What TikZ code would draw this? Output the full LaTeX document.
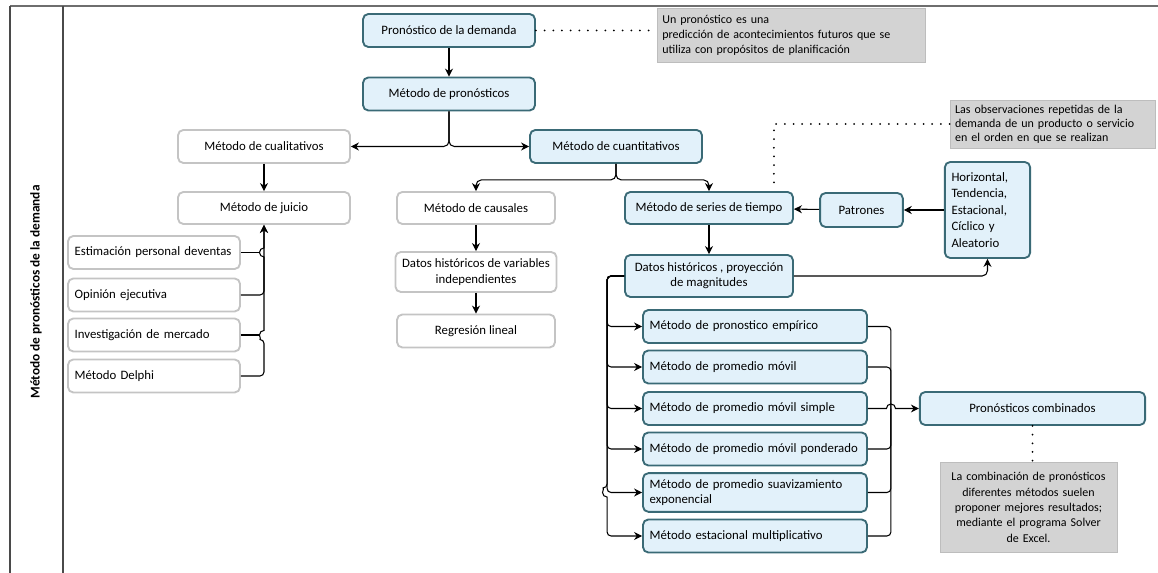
\documentclass[tikz,border=0pt]{standalone}
\usepackage{fontspec}
\setmainfont{Carlito}
\usetikzlibrary{arrows.meta,calc,positioning}
\definecolor{boxfill}{HTML}{E2F1FA}
\definecolor{boxedge}{HTML}{3A6A76}
\definecolor{quietedge}{HTML}{C4C4C4}
\definecolor{notefill}{HTML}{D3D3D3}
\definecolor{noteedge}{HTML}{BDBDBD}
\definecolor{laneline}{HTML}{4A4A4A}

\begin{document}
\begin{tikzpicture}[x=.75pt,y=.75pt,
  font=\fontsize{9.6}{11.4}\selectfont,
  box/.style={draw=boxedge,line width=1.4pt,rounded corners=4pt,
              fill=boxfill,align=center,inner xsep=5pt,inner ysep=2pt},
  quietbox/.style={box,draw=quietedge,fill=white},
  notebox/.style={draw=noteedge,line width=.5pt,fill=notefill,inner xsep=4pt,
                  font=\fontsize{9}{11.2}\selectfont},
  flow/.style={-{Stealth[length=6pt,width=6pt]},draw=black,line width=.8pt},
  plain/.style={draw=black,line width=.8pt},
  dots/.style={draw=black,line width=1.5pt,line cap=round,dash pattern=on 0pt off 6.5pt}
]
% pixel grid of the reference: 1158 x 573
\path[use as bounding box] (0,0) rectangle (1158,-573);

% swimlane frame
\draw[draw=laneline!80,line width=1.5pt] (10,-6) -- (1158,-6);
\draw[draw=laneline,line width=1.3pt] (10,-6) -- (10,-573);
\draw[draw=laneline,line width=1.3pt] (63,-6) -- (63,-573);
\node[rotate=90,font=\bfseries\fontsize{10}{12}\selectfont] (lanetitle) at (36,-292)
  {Método de pronósticos de la demanda};

% top of the tree
\node[box,minimum width=129pt,minimum height=24.75pt] (pdem) at (449,-30.5) {Pronóstico de la demanda};
\node[box,minimum width=129pt,minimum height=24.75pt] (mpron) at (449,-94) {Método de pronósticos};
\node[notebox,text width=193pt,align=left,minimum height=41pt] (notepron) at (791,-35.5)
  {Un pronóstico es una\\
   predicción de acontecimientos futuros que se\\
   utiliza con propósitos de planificación};
\draw[flow] (pdem) -- (mpron);
\draw[dots] (pdem.east) -- (notepron.west |- pdem.east);

\node[quietbox,minimum width=129pt,minimum height=24.75pt] (mcual) at (264,-146.5) {Método de cualitativos};
\node[box,minimum width=129pt,minimum height=24.75pt] (mcuant) at (616,-146.5) {Método de cuantitativos};
\draw[flow,rounded corners=4pt] (mpron.south) |- (mcual.east);
\draw[flow,rounded corners=4pt] (mpron.south) |- (mcuant.west);

% qualitative branch
\node[quietbox,minimum width=129pt,minimum height=24pt] (mjuicio) at (264,-208) {Método de juicio};
\draw[flow] (mcual) -- (mjuicio);
\node[quietbox,text width=119pt,align=left,minimum height=24.75pt] (est) at (154,-252.5) {Estimación personal deventas};
\node[quietbox,text width=119pt,align=left,minimum height=24.75pt] (opin) at (154,-295) {Opinión ejecutiva};
\node[quietbox,text width=119pt,align=left,minimum height=24.75pt] (invest) at (154,-335) {Investigación de mercado};
\node[quietbox,text width=119pt,align=left,minimum height=24.75pt] (delphi) at (154,-376) {Método Delphi};
\draw[flow] (delphi.east) [rounded corners=3pt] -| ($(mjuicio.south |- invest.east)+(0,-4.5)$)
  [sharp corners] arc[start angle=270,end angle=90,radius=3.4pt]
  -- ($(mjuicio.south |- est.east)+(0,-4.5)$) arc[start angle=270,end angle=90,radius=3.4pt]
  -- (mjuicio.south);
\draw[flow,rounded corners=3pt] (opin.east) -| (mjuicio.south);
\draw[plain] (est.east) -- ($(mjuicio.south |- est.east)+(-4.5,0)$);
\draw[plain] (invest.east) -- ($(mjuicio.south |- invest.east)+(-4.5,0)$);

% causal branch
\node[quietbox,minimum width=118.5pt,minimum height=24pt] (mcaus) at (476,-208) {Método de causales};
\node[quietbox,minimum width=118.5pt,minimum height=30pt] (dhist) at (476,-272)
  {Datos históricos de variables\\independientes};
\node[quietbox,minimum width=118.5pt,minimum height=24.75pt] (regr) at (476,-331) {Regresión lineal};
\draw[flow,rounded corners=4pt] (mcuant.south) -- ++(0,-16) -| (mcaus.north);
\draw[flow] (mcaus) -- (dhist);
\draw[flow] (dhist) -- (regr);

% time series branch
\node[box,minimum width=126pt,minimum height=24pt] (mseries) at (709,-208) {Método de series de tiempo};
\node[box,minimum width=62pt,minimum height=25.5pt] (patr) at (861.5,-210) {Patrones};
\node[box,text width=54pt,align=left,minimum height=72pt,font=\fontsize{9.6}{12.4}\selectfont] (comps) at (987.5,-210)
  {Horizontal,\\Tendencia,\\Estacional,\\Cíclico y\\Aleatorio};
\node[box,minimum width=126pt,minimum height=31.5pt] (dproy) at (709,-276)
  {Datos históricos , proyección\\de magnitudes};
\node[notebox,text width=146pt,align=left,minimum height=36pt,font=\fontsize{9}{10.4}\selectfont] (noteseries) at (1052.5,-124)
  {Las observaciones repetidas de la\\
   demanda de un producto o servicio\\
   en el orden en que se realizan};
\draw[flow,rounded corners=4pt] (mcuant.south) -- ++(0,-16) -| (mseries.north);
\draw[flow] (comps) -- (patr);
\draw[flow] (patr) -- (mseries);
\draw[flow] (mseries) -- (dproy);
\draw[flow,rounded corners=4pt] (dproy.east) -| (comps.south);
\draw[dots] (noteseries.west) -| ($(mseries.north east)+(-20,0)$);

% forecasting methods
\node[box,text width=158pt,align=left,minimum height=24.75pt] (memp) at (755,-326.5) {Método de pronostico empírico};
\node[box,text width=158pt,align=left,minimum height=24.75pt] (mmov) at (755,-367) {Método de promedio móvil};
\node[box,text width=158pt,align=left,minimum height=24.75pt] (msimp) at (755,-408.5) {Método de promedio móvil simple};
\node[box,text width=158pt,align=left,minimum height=24.75pt] (mpond) at (755,-449) {Método de promedio móvil ponderado};
\node[box,text width=158pt,align=left,minimum height=29pt] (msuav) at (755,-492.5)
  {Método de promedio suavizamiento\\exponencial};
\node[box,text width=158pt,align=left,minimum height=24.75pt] (mestac) at (755,-536) {Método estacional multiplicativo};
\coordinate (mbus) at ($(dproy.west)+(-17,0)$);
\foreach \m in {memp,mmov,msimp,mpond,msuav}
  \draw[flow,rounded corners=3pt] (dproy.west) -- (mbus) |- (\m.west);
\draw[flow] (dproy.west) [rounded corners=3pt] -- (mbus)
  -- ($(mbus |- msuav.west)+(0,4.5)$) [sharp corners]
  arc[start angle=90,end angle=270,radius=3.4pt]
  [rounded corners=3pt] |- (mestac.west);

% combination
\node[box,minimum width=169pt,minimum height=24.75pt] (comb) at (1032.5,-408.5) {Pronósticos combinados};
\node[notebox,text width=125pt,align=center,minimum height=68pt,font=\fontsize{9}{11.5}\selectfont] (notecomb) at (1028.5,-507.5)
  {La combinación de pronósticos\\
   diferentes métodos suelen\\
   proponer mejores resultados;\\
   mediante el programa Solver\\
   de Excel.};
\coordinate (cbus) at ($(msimp.east)+(23,0)$);
\foreach \m in {memp,mmov,mpond,msuav,mestac}
  \draw[plain,rounded corners=3pt] (\m.east) -| (cbus);
\draw[flow] (msimp.east) -- ($(cbus)+(-4.5,0)$)
  arc[start angle=180,end angle=0,radius=3.4pt] -- (comb.west);
\draw[dots] (comb.south) -- (comb.south |- notecomb.north);
\end{tikzpicture}
\end{document}
